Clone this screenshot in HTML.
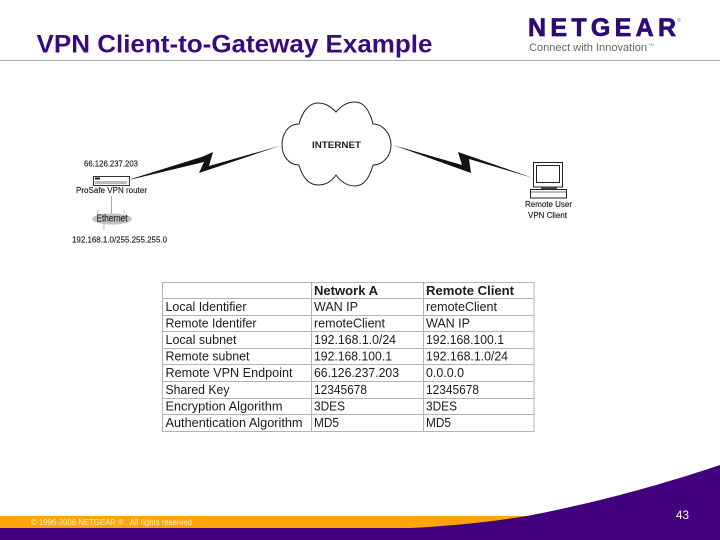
<!DOCTYPE html>
<html><head><meta charset="utf-8"><title>VPN Client-to-Gateway Example</title>
<style>
html,body{margin:0;padding:0;background:#fff}
svg{display:block}
text{font-family:"Liberation Sans",Arial,sans-serif}
</style></head><body>
<svg xmlns="http://www.w3.org/2000/svg" width="720" height="540" viewBox="0 0 720 540">
<rect width="720" height="540" fill="#fff"/>
<!-- Header -->
<text x="36.500" y="52.500" font-size="25" font-weight="bold" fill="#3a0a80" textLength="396" lengthAdjust="spacingAndGlyphs">VPN Client-to-Gateway Example</text>
<rect x="0" y="60" width="720" height="1" fill="#aaaaaa"/>
<text x="528" y="36" font-size="25" font-weight="bold" fill="#2e0a78" stroke="#2e0a78" stroke-width="0.700" textLength="148" lengthAdjust="spacing">NETGEAR</text>
<text x="677" y="22" font-size="5" fill="#777">®</text>
<text x="529" y="51" font-size="11" fill="#666" textLength="118" lengthAdjust="spacingAndGlyphs">Connect with Innovation</text>
<text x="648" y="46" font-size="4" fill="#777">TM</text>

<!-- Cloud -->
<path d="M336,112 C330,106 325,103 318,103 C308,103 302,113 299,124 C288,124 282,134 282,145 C282,156 289,165 299,165 C302,176 308,185 318,185 C326,185 332,181 336,175 C340,181 347,186 355,186 C365,186 370,176 373,165 C383,165 391,156 391,145 C391,134 383,124 373,124 C370,112 365,102 355,102 C347,102 341,106 336,112 Z" fill="#fff" stroke="#222" stroke-width="1"/>
<text x="312" y="148" font-size="9.500" font-weight="bold" fill="#222" textLength="49" lengthAdjust="spacingAndGlyphs">INTERNET</text>

<!-- Lightning links -->
<polygon points="131,179 203,156.500 213,152 209,166 281,145.500 199,173 204,162 131,179.500" fill="#111"/>
<polygon points="393,145 462,165 458,152 533,178 469,159 471,173" fill="#111"/>

<!-- Router -->
<rect x="93.500" y="176.500" width="36" height="9" fill="#fff" stroke="#333" stroke-width="1"/>
<rect x="95" y="177.500" width="5" height="2" fill="#222"/>
<rect x="95" y="181" width="32" height="3" fill="#bbb"/>
<line x1="111.500" y1="196" x2="111.500" y2="214" stroke="#aaa" stroke-width="1"/>
<line x1="98" y1="209" x2="98" y2="214" stroke="#ccc" stroke-width="1"/>
<line x1="124" y1="209" x2="124" y2="214" stroke="#ccc" stroke-width="1"/>
<line x1="104" y1="224" x2="104" y2="230" stroke="#bbb" stroke-width="1"/>
<ellipse cx="112" cy="219" rx="20" ry="5.500" fill="#c4c4c4"/>
<g fill="#222" stroke="#222" stroke-width="0.150">
<text x="84" y="166.500" font-size="8" textLength="54" lengthAdjust="spacingAndGlyphs">66.126.237.203</text>
<text x="76" y="193" font-size="8" textLength="71" lengthAdjust="spacingAndGlyphs">ProSafe VPN router</text>
<text x="96.500" y="221.500" font-size="10" textLength="31" lengthAdjust="spacingAndGlyphs">Ethernet</text>
<text x="72" y="242.500" font-size="8" textLength="95" lengthAdjust="spacingAndGlyphs">192.168.1.0/255.255.255.0</text>
</g>

<!-- Computer -->
<rect x="533.500" y="162.500" width="29" height="24.500" fill="#fff" stroke="#222" stroke-width="1"/>
<rect x="536.500" y="165.500" width="23" height="17" fill="#fff" stroke="#222" stroke-width="1"/>
<rect x="541" y="187" width="16" height="2" fill="#444"/>
<rect x="530.500" y="189.500" width="36" height="8.500" fill="#fff" stroke="#222" stroke-width="1"/>
<line x1="531" y1="192" x2="566" y2="192" stroke="#777" stroke-width="1"/>
<g fill="#222" stroke="#222" stroke-width="0.150">
<text x="525" y="207" font-size="8" textLength="47" lengthAdjust="spacingAndGlyphs">Remote User</text>
<text x="528" y="218" font-size="8" textLength="39" lengthAdjust="spacingAndGlyphs">VPN Client</text>
</g>

<!-- Table grid -->
<g stroke="#b4b4b4" stroke-width="1" fill="none">
<rect x="162.500" y="282.500" width="371.500" height="149"/>
<line x1="311.500" y1="282" x2="311.500" y2="431"/>
<line x1="423.500" y1="282" x2="423.500" y2="431"/>
<line x1="162" y1="298.500" x2="534" y2="298.500"/>
<line x1="162" y1="315.500" x2="534" y2="315.500"/>
<line x1="162" y1="331.500" x2="534" y2="331.500"/>
<line x1="162" y1="348.500" x2="534" y2="348.500"/>
<line x1="162" y1="364.500" x2="534" y2="364.500"/>
<line x1="162" y1="381.500" x2="534" y2="381.500"/>
<line x1="162" y1="398.500" x2="534" y2="398.500"/>
<line x1="162" y1="414.500" x2="534" y2="414.500"/>
</g>
<!-- Table text -->
<g font-size="12.500" fill="#1c1c1c">
<text x="314" y="295" font-weight="bold" textLength="64" lengthAdjust="spacingAndGlyphs">Network A</text>
<text x="426" y="295" font-weight="bold" textLength="88" lengthAdjust="spacingAndGlyphs">Remote Client</text>

<text x="165.500" y="311" textLength="81" lengthAdjust="spacingAndGlyphs">Local Identifier</text>
<text x="314" y="311" textLength="44" lengthAdjust="spacingAndGlyphs">WAN IP</text>
<text x="426" y="311" textLength="71" lengthAdjust="spacingAndGlyphs">remoteClient</text>

<text x="165.500" y="327.500" textLength="91" lengthAdjust="spacingAndGlyphs">Remote Identifer</text>
<text x="314" y="327.500" textLength="71" lengthAdjust="spacingAndGlyphs">remoteClient</text>
<text x="426" y="327.500" textLength="44" lengthAdjust="spacingAndGlyphs">WAN IP</text>

<text x="165.500" y="344" textLength="71" lengthAdjust="spacingAndGlyphs">Local subnet</text>
<text x="314" y="344" textLength="82" lengthAdjust="spacingAndGlyphs">192.168.1.0/24</text>
<text x="426" y="344" textLength="78" lengthAdjust="spacingAndGlyphs">192.168.100.1</text>

<text x="165.500" y="360.500" textLength="84" lengthAdjust="spacingAndGlyphs">Remote subnet</text>
<text x="314" y="360.500" textLength="78" lengthAdjust="spacingAndGlyphs">192.168.100.1</text>
<text x="426" y="360.500" textLength="82" lengthAdjust="spacingAndGlyphs">192.168.1.0/24</text>

<text x="165.500" y="377" textLength="127" lengthAdjust="spacingAndGlyphs">Remote VPN Endpoint</text>
<text x="314" y="377" textLength="85" lengthAdjust="spacingAndGlyphs">66.126.237.203</text>
<text x="426" y="377" textLength="38" lengthAdjust="spacingAndGlyphs">0.0.0.0</text>

<text x="165.500" y="394" textLength="64" lengthAdjust="spacingAndGlyphs">Shared Key</text>
<text x="314" y="394" textLength="53" lengthAdjust="spacingAndGlyphs">12345678</text>
<text x="426" y="394" textLength="53" lengthAdjust="spacingAndGlyphs">12345678</text>

<text x="165.500" y="410.500" textLength="117" lengthAdjust="spacingAndGlyphs">Encryption Algorithm</text>
<text x="314" y="410.500" textLength="31" lengthAdjust="spacingAndGlyphs">3DES</text>
<text x="426" y="410.500" textLength="31" lengthAdjust="spacingAndGlyphs">3DES</text>

<text x="165.500" y="427" textLength="137" lengthAdjust="spacingAndGlyphs">Authentication Algorithm</text>
<text x="314" y="427" textLength="25" lengthAdjust="spacingAndGlyphs">MD5</text>
<text x="426" y="427" textLength="25" lengthAdjust="spacingAndGlyphs">MD5</text>
</g>

<!-- Footer -->
<rect x="0" y="516" width="540" height="14" fill="#ffa50a"/>
<path d="M0,528 L410,528 C450,526 490,522 527,516 C600,502 660,485 720,465 L720,540 L0,540 Z" fill="#42007f"/>
<text x="31" y="525" font-size="8.500" fill="#fff3d0" textLength="161" lengthAdjust="spacingAndGlyphs">© 1996-2006 NETGEAR ® . All rights reserved</text>
<text x="676" y="519" font-size="12" fill="#fff" textLength="13" lengthAdjust="spacingAndGlyphs">43</text>
</svg>
</body></html>
